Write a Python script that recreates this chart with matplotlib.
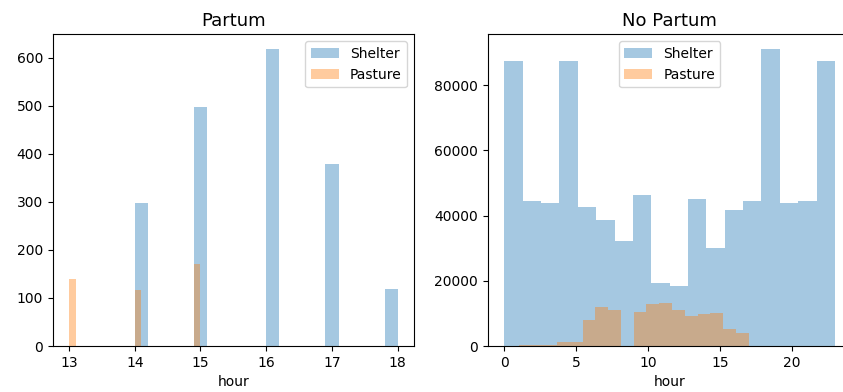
import numpy as np
import matplotlib
matplotlib.use("Agg")
import matplotlib.pyplot as plt

# Partum: hourly counts per location
partum_shelter_hours = [14, 15, 16, 17, 18]
partum_shelter_counts = [298, 498, 618, 378, 118]
partum_shelter_bins = [14, 14.2, 14.9, 15.1, 16, 16.2, 16.9, 17.1, 17.8, 18]
partum_pasture_hours = [13, 14, 15]
partum_pasture_counts = [140, 116, 170]

# No Partum: hourly counts per location
nopartum_shelter_hours = list(range(24))
nopartum_shelter_counts = [43800, 43700, 44400, 43700, 43800, 43700, 42600, 38700,
                           32200, 23000, 23200, 19300, 18500, 22600, 22600, 30000,
                           41800, 44400, 45500, 45500, 44000, 44400, 43800, 43700]
nopartum_pasture_hours = list(range(1, 18))
nopartum_pasture_counts = [400, 400, 450, 1300, 1300, 8000, 11900, 11000, 10500,
                           12800, 13200, 10900, 9300, 9700, 10000, 5200, 4000]

plt.rcParams['font.size'] = 10

fig = plt.figure(figsize=(8.43, 3.92), dpi=100)
ax1 = fig.add_axes([52.6 / 843, 0.1173, 361.5 / 843, 0.795])
ax2 = fig.add_axes([487.8 / 843, 0.1173, 363.6 / 843, 0.795])

# Partum
ax1.hist(partum_shelter_hours, bins=partum_shelter_bins, weights=partum_shelter_counts,
         alpha=0.4, label='Shelter')
ax1.hist(partum_pasture_hours, bins=20, weights=partum_pasture_counts,
         alpha=0.4, label='Pasture')
ax1.set_title('Partum', fontsize=13)
ax1.set_xlabel('hour')
ax1.legend(loc='upper right')

# No Partum
ax2.hist(nopartum_shelter_hours, bins=18, weights=nopartum_shelter_counts,
         alpha=0.4, label='Shelter')
ax2.hist(nopartum_pasture_hours, bins=18, weights=nopartum_pasture_counts,
         alpha=0.4, label='Pasture')
ax2.set_title('No Partum', fontsize=13)
ax2.set_xlabel('hour')
ax2.legend(loc='upper center')

fig.savefig('out.png', dpi=100)
